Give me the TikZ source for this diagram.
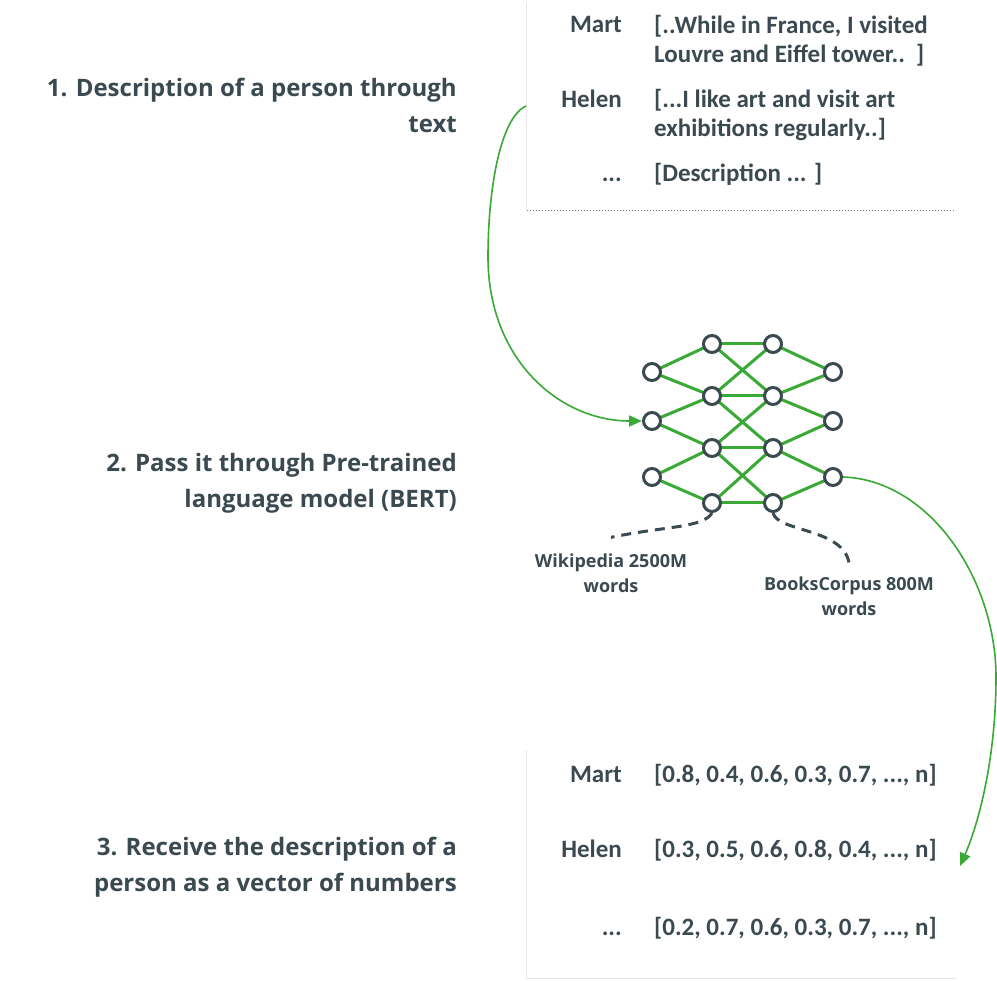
\documentclass[tikz,border=0pt]{standalone}
\usepackage{fontspec}
\setmainfont{Open Sans}
\newfontfamily\tabfont{Carlito}
\usetikzlibrary{arrows.meta}
\definecolor{ink}{HTML}{3B4A51}
\definecolor{grn}{HTML}{3AA935}
\definecolor{rule}{HTML}{E6E6E6}
\tikzset{
  lbl/.style={font=\fontsize{24}{36}\selectfont\bfseries, text=ink, align=right, inner sep=0pt, anchor=base east},
  tl/.style={font=\tabfont\fontsize{25}{29.5}\selectfont\bfseries, text=ink, inner sep=0pt, anchor=base east},
  tx/.style={font=\tabfont\fontsize{25}{29.5}\selectfont\bfseries, text=ink, inner sep=0pt, anchor=base west, align=left},
  neuron/.style={circle, draw=ink, fill=white, line width=3pt, minimum size=17pt, inner sep=0pt},
  syn/.style={grn, line width=3pt},
  src/.style={font=\fontsize{18}{25}\selectfont\bfseries, text=ink, align=center, inner sep=0pt},
  feed/.style={ink, line width=3pt, dash pattern=on 10pt off 7pt},
  flow/.style={grn, line width=1.6pt, -{Triangle[length=13pt,width=11pt]}},
}
\begin{document}
\begin{tikzpicture}[x=1pt,y=-1pt]
\useasboundingbox (0,0) rectangle (997,981);
\fill[white] (0,0) rectangle (997,981);

% left labels (anchored at the baseline of the last line)
\node[lbl] (l1) at (457,133) {1. Description of a person through\\text};
\node[lbl] (l2) at (457,508) {2. Pass it through Pre-trained\\language model (BERT)};
\node[lbl] (l3) at (457,891) {3. Receive the description of a\\person as a vector of numbers};

% table 1
\draw[rule, line width=1pt] (526,3) -- (526,210);
\draw[ink!70, line width=1pt, dotted] (527,211) -- (956,211);
\node[tl] (m1) at (622,33) {Mart};
\node[tx] (d1) at (654,63) {[..While in France, I visited\\Louvre and Eiffel tower..~~]};
\node[tl] (h1) at (622,108) {Helen};
\node[tx] (d2) at (654,137) {[...I like art and visit art\\exhibitions regularly..]};
\node[tl] (e1) at (622,182) {...};
\node[tx] (d3) at (654,182) {[Description ... ]};
\coordinate (t1) at (526,106);

% table 2
\draw[rule, line width=1pt] (526,750) -- (526,978) -- (956,978);
\node[tl] (m2) at (622,782) {Mart};
\node[tx] (v1) at (654,782) {[0.8, 0.4, 0.6, 0.3, 0.7, ..., n]};
\node[tl] (h2) at (622,857) {Helen};
\node[tx] (v2) at (654,857) {[0.3, 0.5, 0.6, 0.8, 0.4, ..., n]};
\node[tl] (e2) at (622,935) {...};
\node[tx] (v3) at (654,935) {[0.2, 0.7, 0.6, 0.3, 0.7, ..., n]};
\coordinate (t2) at (960,866);

% network
\coordinate (A1) at (652,372); \coordinate (A2) at (652,421); \coordinate (A3) at (652,477);
\coordinate (B1) at (712,344); \coordinate (B2) at (712,396); \coordinate (B3) at (712,448); \coordinate (B4) at (712,503);
\coordinate (C1) at (773,344); \coordinate (C2) at (773,396); \coordinate (C3) at (773,448); \coordinate (C4) at (773,503);
\coordinate (D1) at (833,372); \coordinate (D2) at (833,421); \coordinate (D3) at (833,477);
\draw[syn] (A1)--(B1) (A1)--(B2) (A2)--(B2) (A2)--(B3) (A3)--(B3) (A3)--(B4);
\draw[syn] (B1)--(C1) (B2)--(C2) (B3)--(C3) (B4)--(C4);
\draw[syn] (B1)--(C2) (B2)--(C1) (B2)--(C3) (B3)--(C2) (B3)--(C4) (B4)--(C3);
\draw[syn] (C1)--(D1) (C2)--(D1) (C2)--(D2) (C3)--(D2) (C3)--(D3) (C4)--(D3);
\foreach \n in {A1,A2,A3,B1,B2,B3,B4,C1,C2,C3,C4,D1,D2,D3}
  \node[neuron] (n\n) at (\n) {};

% data sources
\node[src] (wiki) at (611,573) {Wikipedia 2500M\\words};
\node[src] (books) at (849,596) {BooksCorpus 800M\\words};
\draw[feed] (nB4.south) .. controls (703,528) and (665,526) .. ([yshift=16pt]wiki.north);
\draw[feed] (nC4.south) .. controls (778,532) and (842,528) .. ([yshift=14pt]books.north);

% flow arrows
\draw[flow] (t1) .. controls (500,118) and (488,190) .. (488,257)
  .. controls (488,360) and (560,421) .. (nA2.west);
\draw[flow] (nD3.east) .. controls (930,480) and (996,580) .. (996,677)
  .. controls (996,760) and (978,825) .. (t2);
\end{tikzpicture}
\end{document}
